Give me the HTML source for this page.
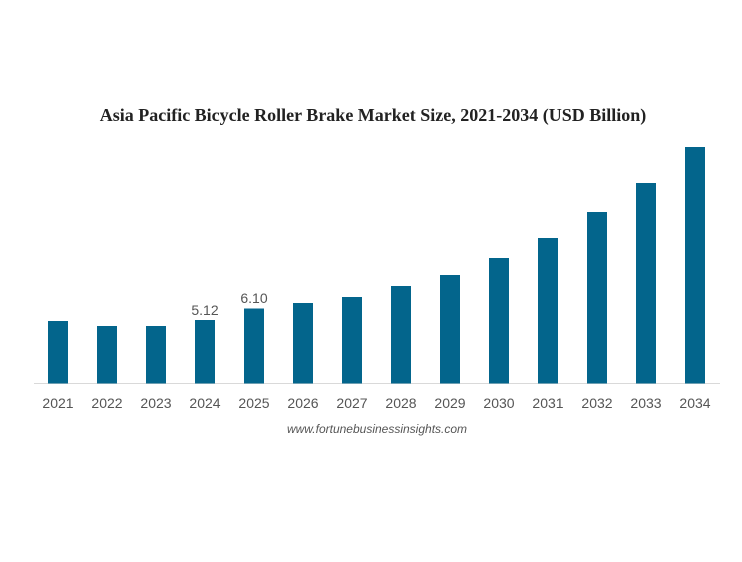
<!DOCTYPE html><html><head><style>body{margin:0;background:#fff}</style></head><body>
<svg width="742" height="557" xmlns="http://www.w3.org/2000/svg">
<text x="373" y="121" text-anchor="middle" font-family="Liberation Serif" font-weight="bold" font-size="18" fill="#222">Asia Pacific Bicycle Roller Brake Market Size, 2021-2034 (USD Billion)</text>
<line x1="34" y1="383.5" x2="720" y2="383.5" stroke="#d9d9d9" stroke-width="1"/>
<g fill="#03658c">
<rect x="48" y="321" width="20" height="62.5"/>
<rect x="97" y="326" width="20" height="57.5"/>
<rect x="146" y="326" width="20" height="57.5"/>
<rect x="195" y="320" width="20" height="63.5"/>
<rect x="244" y="308.5" width="20" height="75"/>
<rect x="293" y="303" width="20" height="80.5"/>
<rect x="342" y="297" width="20" height="86.5"/>
<rect x="391" y="286" width="20" height="97.5"/>
<rect x="440" y="275" width="20" height="108.5"/>
<rect x="489" y="258" width="20" height="125.5"/>
<rect x="538" y="238" width="20" height="145.5"/>
<rect x="587" y="212" width="20" height="171.5"/>
<rect x="636" y="183" width="20" height="200.5"/>
<rect x="685" y="147" width="20" height="236.5"/>
</g>
<g font-family="Liberation Sans" font-size="14" fill="#555" text-anchor="middle">
<text x="205" y="315">5.12</text><text x="254" y="303">6.10</text>
<text x="58" y="408">2021</text><text x="107" y="408">2022</text><text x="156" y="408">2023</text><text x="205" y="408">2024</text><text x="254" y="408">2025</text><text x="303" y="408">2026</text><text x="352" y="408">2027</text><text x="401" y="408">2028</text><text x="450" y="408">2029</text><text x="499" y="408">2030</text><text x="548" y="408">2031</text><text x="597" y="408">2032</text><text x="646" y="408">2033</text><text x="695" y="408">2034</text>
</g>
<text x="377" y="433" text-anchor="middle" font-family="Liberation Sans" font-style="italic" font-size="12" fill="#555">www.fortunebusinessinsights.com</text>
</svg></body></html>
